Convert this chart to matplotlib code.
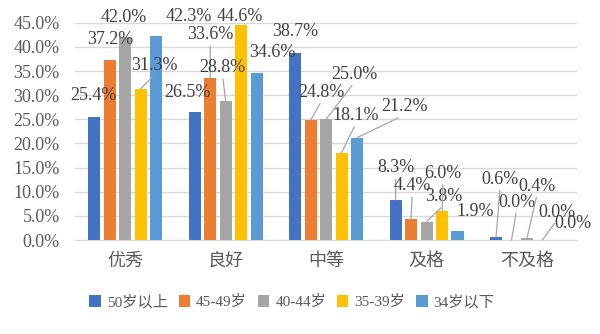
import matplotlib.pyplot as plt
import numpy as np

plt.rcParams['font.family'] = ['Liberation Serif', 'Noto Sans CJK SC', 'DejaVu Sans']

categories = ['优秀', '良好', '中等', '及格', '不及格']
series_names = ['50岁以上', '45-49岁', '40-44岁', '35-39岁', '34岁以下']
colors = ['#4472C4', '#ED7D31', '#A5A5A5', '#FFC000', '#5B9BD5']

age_50_up = [25.4, 26.5, 38.7, 8.3, 0.6]
age_45_49 = [37.2, 33.6, 24.8, 4.4, 0.0]
age_40_44 = [42.0, 28.8, 25.0, 3.8, 0.4]
age_35_39 = [31.3, 44.6, 18.1, 6.0, 0.0]
age_34_down = [42.3, 34.6, 21.2, 1.9, 0.0]
values = [age_50_up, age_45_49, age_40_44, age_35_39, age_34_down]

# label offsets in pixels from the bar top (dx, dy), per series then category
label_offsets = [
    [(-1, 22), (-7, 20), (0, 22), (0, 32), (4, 58)],
    [(0, 21), (0, 43), (11, 28), (1, 33), (5, 38)],
    [(-1, 20), (-3, 33), (28, 45), (17, 25), (10, 52)],
    [(14, 23), (-1, 8), (14, 37), (1, 38), (14, 28)],
    [(33, 19), (16, 20), (47, 31), (18, 19), (15, 17)],
]
leaders = [
    [0, 0, 0, 1, 1],
    [0, 1, 1, 1, 1],
    [0, 1, 1, 1, 1],
    [1, 0, 1, 1, 1],
    [0, 0, 1, 0, 0],
]

fig = plt.figure(figsize=(6, 3.34), dpi=100)
ax = fig.add_axes([0.125, 0.2814, 0.837, 0.6506])

x = np.arange(len(categories))
step = 0.154
width = 0.12
for i, (name, vals) in enumerate(zip(series_names, values)):
    xs = x + (i - 2) * step
    ax.bar(xs, vals, width, color=colors[i], label=name, zorder=3)
    for j, v in enumerate(vals):
        dx, dy = label_offsets[i][j]
        kw = {}
        if leaders[i][j]:
            kw['arrowprops'] = dict(arrowstyle='-', color='#A6A6A6', lw=0.9,
                                    shrinkA=0, shrinkB=0, relpos=(0.5, 0.0))
        ax.annotate(f'{v:.1f}%', xy=(xs[j], v), xytext=(dx, dy),
                    textcoords='offset pixels', ha='center', va='center',
                    fontsize=13, color='#404040', zorder=5, **kw)

ax.set_ylim(0, 45)
ax.set_xlim(-0.5, 4.5)
ax.set_yticks(np.arange(0, 46, 5))
ax.set_yticklabels([f'{t:.1f}%' for t in np.arange(0, 46, 5)])
ax.set_xticks(x)
ax.set_xticklabels(categories)
ax.yaxis.grid(color='#D9D9D9', linewidth=1, zorder=0)
ax.set_axisbelow(True)
for s in ['top', 'right', 'left']:
    ax.spines[s].set_visible(False)
ax.spines['bottom'].set_color('#D9D9D9')
ax.tick_params(axis='y', length=0, pad=11, labelsize=13, labelcolor='#595959')
ax.tick_params(axis='x', length=0, pad=9, labelsize=13, labelcolor='#595959')

fig.legend(loc='center', bbox_to_anchor=(292 / 600, 1 - 302 / 334), ncol=5,
           frameon=False, fontsize=11, handlelength=0.75, handleheight=0.75,
           handletextpad=0.4, columnspacing=0.7, labelcolor='#595959')

fig.savefig('out.png', dpi=100)
